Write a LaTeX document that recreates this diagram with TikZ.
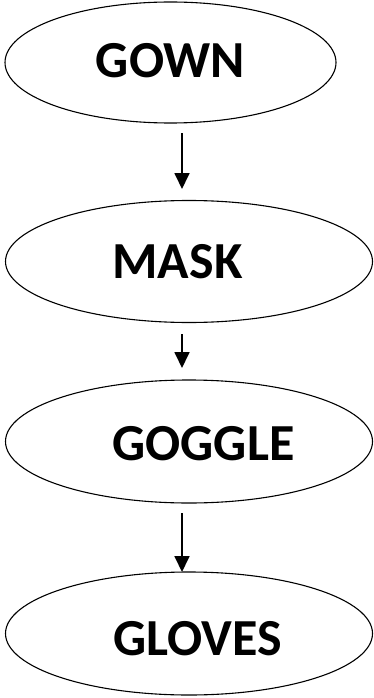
\documentclass[tikz,border=0pt]{standalone}
\usepackage{fontspec}
\setmainfont{Carlito}
\usetikzlibrary{shapes.geometric,arrows.meta}
\tikzset{
  x=1pt, y=-1pt,
  stage/.style={draw=black, line width=1.1pt, shape=ellipse, inner sep=0pt},
  label/.style={anchor=base, inner sep=0pt, font=\fontsize{52}{52}\selectfont\bfseries},
  flow/.style={line width=1.8pt, -{Triangle[width=15pt,length=16pt]}}
}
\begin{document}
\begin{tikzpicture}
  \useasboundingbox (0,0) rectangle (374,698);
  % the four stages
  \node[stage, minimum width=331pt, minimum height=121pt] (gown)   at (170.5,62.5)  {};
  \node[stage, minimum width=367pt, minimum height=122pt] (mask)   at (189,261.5)   {};
  \node[stage, minimum width=367pt, minimum height=123pt] (goggle) at (189,441.5)   {};
  \node[stage, minimum width=367pt, minimum height=123pt] (gloves) at (189,633.5)   {};
  % their labels
  \node[label] (tgown)   at (170.5,78)  {GOWN};
  \node[label] (tmask)   at (177.5,278) {MASK};
  \node[label] (tgoggle) at (203.5,460) {GOGGLE};
  \node[label] (tgloves) at (197.5,655) {GLOVES};
  % arrow end points
  \coordinate (a1s) at (182,133);
  \coordinate (a1e) at (182,189);
  \coordinate (a2s) at (182,334);
  \coordinate (a2e) at (182,368);
  \coordinate (a3s) at (182,513);
  \coordinate (a3e) at (182,572);
  \draw[flow] (a1s) -- (a1e);
  \draw[flow] (a2s) -- (a2e);
  \draw[flow] (a3s) -- (a3e);
\end{tikzpicture}
\end{document}
